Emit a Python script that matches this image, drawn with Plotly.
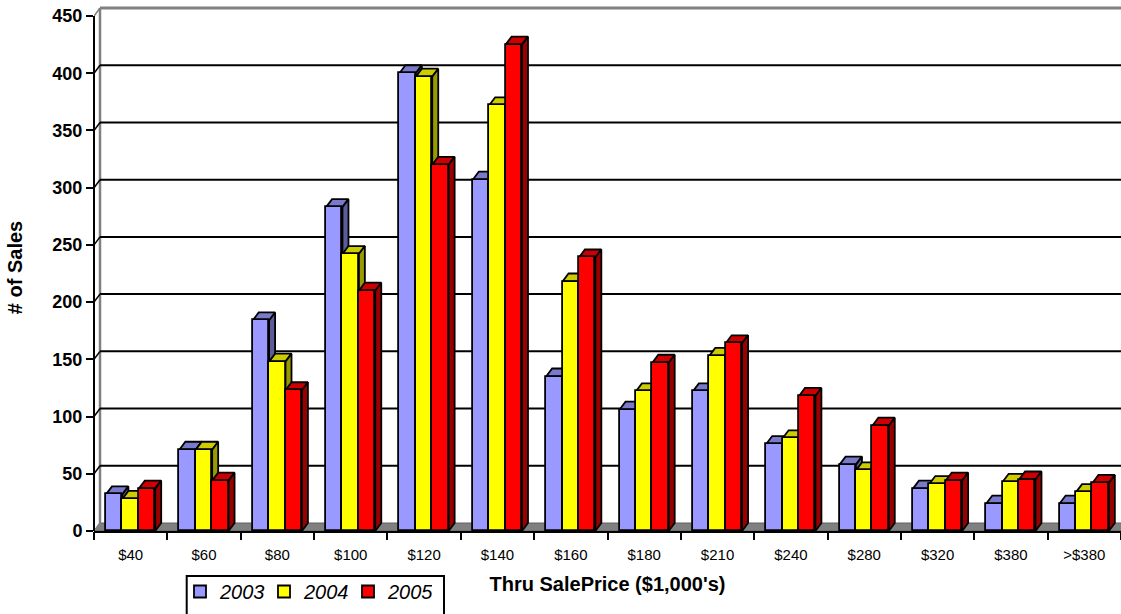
import plotly.graph_objects as go

# ---- data -------------------------------------------------------------
categories = ["$40", "$60", "$80", "$100", "$120", "$140", "$160",
              "$180", "$210", "$240", "$280", "$320", "$380", ">$380"]
years = ["2003", "2004", "2005"]
sales_2003 = [32, 71, 184, 283, 400, 307, 135, 106, 122, 76, 58, 37, 24, 24]
sales_2004 = [28, 71, 148, 242, 397, 372, 218, 122, 153, 81, 53, 41, 43, 34]
sales_2005 = [37, 44, 123, 210, 320, 425, 239, 147, 164, 118, 92, 44, 45, 42]
y_ticks = list(range(0, 451, 50))

series = [sales_2003, sales_2004, sales_2005]
front_colors = ["#9999FF", "#FFFF00", "#FF0000"]
top_colors = ["#7A7ACC", "#CCCC00", "#CC0000"]
side_colors = ["#5C5C99", "#999900", "#990000"]

# ---- geometry (category units on x, value units on y) -----------------
W, H = 1121, 614
M_L, M_R, M_T, M_B = 94, 0, 4, 83
plot_w = W - M_L - M_R
plot_h = H - M_T - M_B
px_per_cat = plot_w / len(categories)
px_per_val = 1.1444
y_top = plot_h / px_per_val

DX = 6 / px_per_cat          # oblique depth, horizontal
DY = 8 / px_per_val          # oblique depth, vertical
BAR_W = 16.4 / px_per_cat
GROUP_OFF = 12 / px_per_cat
OUTLINE = 1.8

def paper_x(px):
    return (px - M_L) / plot_w

def paper_y(py):
    return (H - M_B - py) / plot_h

fig = go.Figure()

# top and side faces of every column (drawn beneath the front faces)
for i in range(len(categories)):
    for j, vals in enumerate(series):
        v = vals[i]
        a = i + GROUP_OFF + j * BAR_W
        b = a + BAR_W
        fig.add_trace(go.Scatter(
            x=[a, b, b + DX, a + DX, a], y=[v, v, v + DY, v + DY, v],
            mode="lines", fill="toself", fillcolor=top_colors[j],
            line=dict(color="black", width=OUTLINE),
            showlegend=False, hoverinfo="skip"))
        fig.add_trace(go.Scatter(
            x=[b, b + DX, b + DX, b, b], y=[0, DY, v + DY, v, 0],
            mode="lines", fill="toself", fillcolor=side_colors[j],
            line=dict(color="black", width=OUTLINE),
            showlegend=False, hoverinfo="skip"))

# front faces as real bars on an overlaid pair of axes
for j, vals in enumerate(series):
    centers = [i + GROUP_OFF + (j + 0.5) * BAR_W for i in range(len(categories))]
    fig.add_trace(go.Bar(
        x=centers, y=vals, width=BAR_W, name=years[j],
        marker=dict(color=front_colors[j], line=dict(color="black", width=OUTLINE)),
        xaxis="x2", yaxis="y2",
        hovertext=[f"{c}: {v}" for c, v in zip(categories, vals)], hoverinfo="text"))

# ---- chart frame: floor, back wall and gridlines ----------------------
n = len(categories)
shapes = [
    dict(type="path", layer="below", xref="x", yref="y",
         path=f"M0,0 L{n},0 L{n + DX},{DY} L{DX},{DY} Z",
         fillcolor="#808080", line=dict(color="#606060", width=1)),
    # back wall left edge and top edge
    dict(type="line", layer="below", xref="x", yref="y",
         x0=DX, x1=DX, y0=DY, y1=y_ticks[-1] + DY,
         line=dict(color="#808080", width=2.5)),
    dict(type="line", layer="below", xref="x", yref="y",
         x0=DX, x1=n + DX, y0=y_ticks[-1] + DY, y1=y_ticks[-1] + DY,
         line=dict(color="#808080", width=3)),
    # value axis line
    dict(type="line", layer="above", xref="paper", yref="y",
         x0=0, x1=0, y0=0, y1=y_ticks[-1],
         line=dict(color="black", width=2)),
    # legend frame
    dict(type="rect", layer="above", xref="paper", yref="paper",
         x0=paper_x(186.7), x1=paper_x(444), y0=paper_y(576), y1=paper_y(618),
         line=dict(color="black", width=2), fillcolor="rgba(0,0,0,0)"),
]
for t in y_ticks:
    edge = "#808080" if t in (0, y_ticks[-1]) else "black"
    shapes.append(dict(type="line", layer="below", xref="x", yref="y",
                       x0=0, x1=DX, y0=t, y1=t + DY,
                       line=dict(color=edge, width=1.5)))
    if 0 < t < y_ticks[-1]:
        shapes.append(dict(type="line", layer="below", xref="x", yref="y",
                           x0=DX, x1=n + DX, y0=t + DY, y1=t + DY,
                           line=dict(color="black", width=2)))

FONT = "Liberation Sans, Arial, sans-serif"

fig.update_layout(
    width=W, height=H,
    margin=dict(l=M_L, r=M_R, t=M_T, b=M_B, autoexpand=False),
    paper_bgcolor="white", plot_bgcolor="white",
    barmode="overlay", bargap=0,
    shapes=shapes,
    font=dict(family=FONT, color="black"),
    xaxis=dict(
        range=[0, n], showgrid=False, zeroline=False,
        showline=True, linecolor="black", linewidth=2,
        tickvals=[i + 0.5 for i in range(n)], ticktext=categories,
        ticks="outside", ticklen=9, tickcolor="rgba(0,0,0,0)",
        tickfont=dict(family=FONT, size=15, color="black"),
        title=dict(text="Thru SalePrice ($1,000's)", standoff=15,
                   font=dict(family=FONT, size=20, weight="bold", color="black")),
        automargin=False, fixedrange=True),
    yaxis=dict(
        range=[0, y_top], showgrid=False, zeroline=False, showline=False,
        tickvals=y_ticks, ticks="outside", ticklen=7, tickwidth=2, tickcolor="black",
        tickfont=dict(family=FONT, size=18, weight="bold", color="black"),
        title=dict(text="# of Sales", standoff=24,
                   font=dict(family=FONT, size=20, weight="bold", color="black")),
        automargin=False, fixedrange=True),
    xaxis2=dict(
        range=[0, n], overlaying="x", anchor="y2", side="bottom",
        showgrid=False, zeroline=False, showline=False, showticklabels=False,
        tickvals=list(range(n + 1)), ticks="outside", ticklen=8, tickwidth=2,
        tickcolor="black", fixedrange=True),
    yaxis2=dict(
        range=[0, y_top], overlaying="y", anchor="x2", visible=False,
        fixedrange=True),
    legend=dict(
        orientation="h", x=paper_x(180), xanchor="left",
        y=paper_y(572), yanchor="top",
        borderwidth=0, bgcolor="rgba(0,0,0,0)",
        entrywidth=39, entrywidthmode="pixels",
        font=dict(family=FONT, size=20, style="italic", color="black"),
        traceorder="normal"),
    showlegend=True,
)

fig.write_html("out.html")
